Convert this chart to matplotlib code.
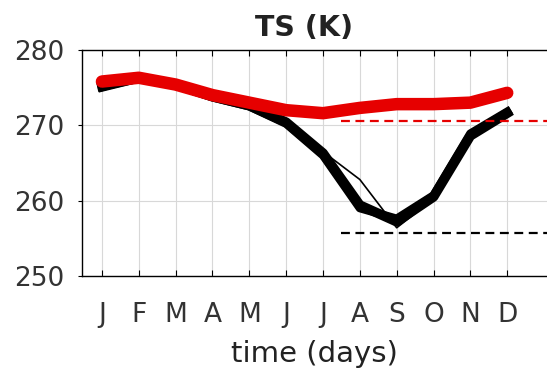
import numpy as np
import matplotlib.pyplot as plt

months = ['J', 'F', 'M', 'A', 'M', 'J', 'J', 'A', 'S', 'O', 'N', 'D']
month_pos = np.arange(1, 13)

# surface temperature (K), monthly means
ts_red = [275.8, 276.3, 275.4, 274.0, 273.0, 272.0, 271.6, 272.3, 272.8, 272.8, 273.0, 274.3]
ts_black_a = [275.2, 276.3, 275.4, 273.8, 272.6, 270.4, 266.3, 259.4, 257.2, 260.5, 268.6, 271.6]
ts_black_b = [275.0, 276.2, 275.3, 273.7, 272.5, 270.2, 266.0, 259.0, 257.6, 260.7, 268.9, 271.8]
ts_black_thin = [274.6, 276.0, 275.2, 273.6, 272.4, 270.3, 266.5, 262.8, 256.4, 260.2, 268.4, 271.9]

red_ref = 270.6
black_ref = 255.7
ref_start = 7.5

fig = plt.figure(figsize=(5.47, 3.75), dpi=100)
ax = fig.add_axes([0.150, 0.264, 0.850, 0.603])

ax.plot(month_pos, ts_black_thin, color='black', lw=1.2, zorder=3)
ax.plot(month_pos, ts_black_b, color='black', lw=6, zorder=3)
ax.plot(month_pos, ts_black_a, color='black', lw=7, zorder=3)
ax.plot(month_pos, ts_red, color='#e60000', lw=9, zorder=4, solid_capstyle='round')

xmax = 13.08
ax.hlines(red_ref, ref_start, xmax, colors='#e60000', linestyles=(0, (4, 2.5)), lw=1.6, zorder=5)
ax.hlines(black_ref, ref_start, xmax, colors='black', linestyles=(0, (4, 2.5)), lw=1.6, zorder=5)

ax.set_xlim(0.46, xmax)
ax.set_ylim(250, 280)
ax.set_xticks(month_pos)
ax.set_xticklabels(months)
ax.set_yticks([250, 260, 270, 280])

ax.grid(True, color='#d8d8d8', lw=0.8)
ax.set_axisbelow(True)
ax.spines['right'].set_visible(False)
for s in ['left', 'top', 'bottom']:
    ax.spines[s].set_linewidth(1.0)

ax.tick_params(axis='x', direction='in', top=True, length=4, labelsize=19,
               labelcolor='#333333', pad=19)
ax.tick_params(axis='y', direction='out', length=3, labelsize=19,
               labelcolor='#333333', pad=10)

ax.set_xlabel('time (days)', fontsize=21, color='#222222', labelpad=8)
ax.set_title('TS (K)', fontsize=20.5, fontweight='bold', color='#222222', pad=10, x=0.477)

fig.savefig('out.png', dpi=100)
